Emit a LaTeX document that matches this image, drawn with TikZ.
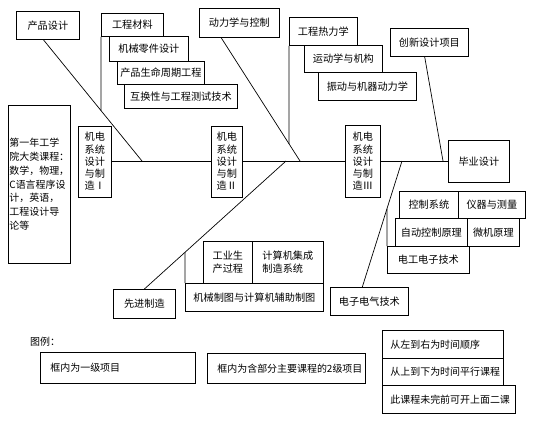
\documentclass[tikz,border=0pt]{standalone}
\usepackage{fontspec}
\setmainfont{Noto Sans CJK SC}
\usetikzlibrary{calc}

\begin{document}
\begin{tikzpicture}[x=1bp, y=-1bp, font=\fontsize{10.2pt}{13pt}\selectfont,
  box/.style={draw, fill=white, line width=0.8pt, inner sep=0pt, anchor=north west},
  bone/.style={line width=0.7pt}]

\useasboundingbox (0,0) rectangle (549,422);

% ==================== SPINE ====================
\node[box, minimum height=158bp, text width=60bp, inner xsep=1bp, align=left,
  font=\fontsize{10pt}{13.8pt}\selectfont] (dyn) at (8,105)
  {第一年工学\\院大类课程：\\数学，物理，\\C语言程序设\\计，英语，\\工程设计导\\论等};

% Main course boxes
\node[box, minimum width=33bp, minimum height=71bp, align=center,
  font=\fontsize{10.2pt}{12.3pt}\selectfont] (jd1) at (78,125.5) {机电\\系统\\设计\\与制\\造Ⅰ};
\node[box, minimum width=31bp, minimum height=71bp, align=center,
  font=\fontsize{10.2pt}{12.3pt}\selectfont] (jd2) at (211,125.5) {机电\\系统\\设计\\与制\\造Ⅱ};
\node[box, minimum width=35bp, minimum height=72bp, align=center,
  font=\fontsize{10.2pt}{12.3pt}\selectfont] (jd3) at (345,125) {机电\\系统\\设计\\与制\\造Ⅲ};
\node[box, minimum width=61bp, minimum height=42bp] (bysj) at (448,140) {毕业设计};

% Junctions on the spine
\coordinate (j1) at (142,161);
\coordinate (j2) at (286,161);
\coordinate (j3) at (300,161);
\coordinate (j4) at (402,161);
\coordinate (j5) at (443,161);

\draw[bone] (jd1) -- (jd2) -- (jd3) -- (bysj);

% ==================== UPPER BRANCHES ====================
% Product design + materials stack
\node[box, minimum width=63bp, minimum height=28bp] (cpsj) at (16,11) {产品设计};
\node[box, minimum width=62bp, minimum height=23bp] (gccl) at (101,13) {工程材料};
\node[box, minimum width=79bp, minimum height=25bp] (jxlj) at (109,36) {机械零件设计};
\node[box, minimum width=87bp, minimum height=23bp] (cpsm) at (117,61) {产品生命周期工程};
\node[box, minimum width=113bp, minimum height=24bp] (hhx) at (124,84) {互换性与工程测试技术};

\coordinate (cpsj-s) at ($(cpsj.south west)!0.43!(cpsj.south east)$);
\draw[bone] (cpsj-s) -- (j1);
\draw[bone] (gccl.south west) -- (intersection of gccl.south west--gccl.north west and cpsj-s--j1);

% Dynamics and control + thermodynamics stack
\node[box, minimum width=80bp, minimum height=29bp] (dlx) at (199,8) {动力学与控制};
\node[box, minimum width=68bp, minimum height=28bp] (gcrl) at (289,17) {工程热力学};
\node[box, minimum width=78bp, minimum height=27bp] (ydx) at (304,45) {运动学与机构};
\node[box, minimum width=98bp, minimum height=28bp] (zdx) at (318,72) {振动与机器动力学};

\coordinate (dlx-s) at ($(dlx.south west)!0.275!(dlx.south east)$);
\draw[bone] (dlx-s) -- (j3);
\draw[bone] (gcrl.south west) -- (intersection of gcrl.south west--gcrl.north west and dlx-s--j3);

% Innovation project
\node[box, minimum width=78bp, minimum height=28bp] (cxsj) at (390,28) {创新设计项目};
\coordinate (cxsj-s) at ($(cxsj.south west)!0.44!(cxsj.south east)$);
\draw[bone] (cxsj-s) -- (j5);

% ==================== LOWER BRANCHES ====================
% Advanced manufacturing stack
\node[box, minimum width=62bp, minimum height=29bp] (xjzz) at (113,289) {先进制造};
\node[box, minimum width=49bp, minimum height=42bp, align=center] (gysc) at (203,241) {工业生\\产过程};
\node[box, minimum width=71bp, minimum height=42bp, align=left] (jsjj) at (252,241) {计算机集成\\制造系统};
\node[box, minimum width=138bp, minimum height=28bp] (jxzt) at (185,283) {机械制图与计算机辅助制图};

\draw[bone] (xjzz.north) -- (j2);
\draw[bone] (jxzt.north west) -- (intersection of jxzt.north west--jxzt.south west and xjzz.north--j2);

% Electrical technology stack
\node[box, minimum width=78bp, minimum height=28bp] (dzdq) at (330,287) {电子电气技术};
\node[box, minimum width=59bp, minimum height=27bp] (kzxt) at (399,191) {控制系统};
\node[box, minimum width=67bp, minimum height=27bp] (yqcl) at (458,191) {仪器与测量};
\node[box, minimum width=72bp, minimum height=28bp] (zdkz) at (395,218) {自动控制原理};
\node[box, minimum width=52bp, minimum height=28bp] (wjyl) at (467,218) {微机原理};
\node[box, minimum width=82bp, minimum height=27bp] (dgdz) at (387,246) {电工电子技术};

\coordinate (dzdq-n) at ($(dzdq.north west)!0.41!(dzdq.north east)$);
\draw[bone] (dzdq-n) -- (j4);
\draw[bone] (dgdz.north west) -- (intersection of dgdz.north west--dgdz.south west and dzdq-n--j4);

% ==================== LEGEND ====================
\begin{scope}[font=\fontsize{10pt}{12pt}\selectfont]
  \node[anchor=west, inner sep=0pt] (tuli) at (30,342) {图例：};
  \node[box, minimum height=31bp, text width=135bp, inner xsep=10bp, align=left] (lg1) at (40,352) {框内为一级项目};
  \node[box, minimum height=30bp, text width=138bp, inner xsep=10bp, align=left] (lg2) at (207,353) {框内为含部分主要课程的2级项目};
  \node[box, minimum height=28bp, text width=105bp, inner xsep=8bp, align=left] (lg3) at (382,330) {从左到右为时间顺序};
  \node[box, minimum height=27bp, text width=105bp, inner xsep=8bp, align=left] (lg4) at (382,358) {从上到下为时间平行课程};
  \node[box, minimum height=28bp, text width=117bp, inner xsep=8bp, align=left] (lg5) at (382,385) {此课程未完前可开上面二课};
\end{scope}

\end{tikzpicture}
\end{document}
